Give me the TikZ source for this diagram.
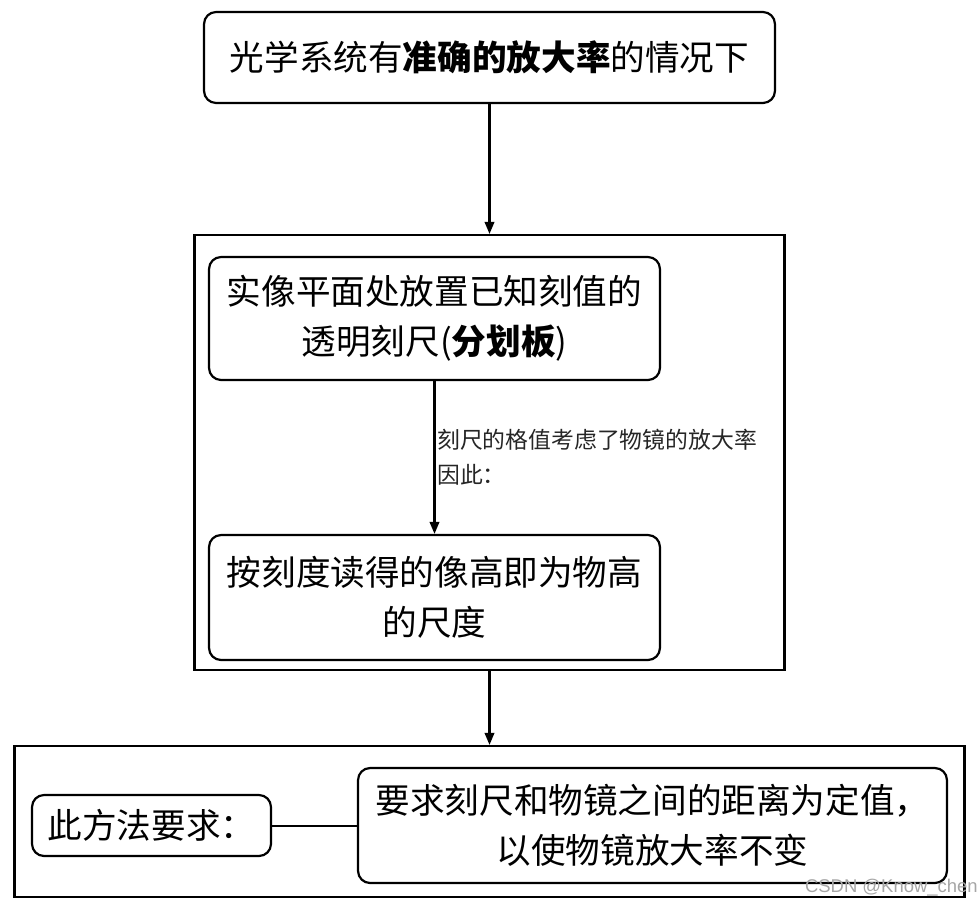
\documentclass[tikz,border=0pt]{standalone}
\usepackage{fontspec}
\setmainfont{Noto Sans CJK SC}
\newfontfamily\wmfont{Liberation Sans}
\usepackage{tikz}
\usetikzlibrary{arrows.meta,positioning}
\tikzset{
  rbox/.style={rectangle,rounded corners=2.4mm,draw=black,line width=1.25pt,align=center,inner sep=0pt,font=\fontsize{19.7}{28.4}\selectfont},
  frame/.style={rectangle,draw=black,line width=1.25pt,inner sep=0pt},
  flow/.style={-{Triangle[length=2.4mm,width=1.9mm]},line width=1.15pt,black},
  link/.style={line width=1.15pt,black},
  note/.style={align=left,inner sep=1pt,font=\fontsize{13}{20}\selectfont,black!85},
}
\begin{document}
\begin{tikzpicture}[x=0.02cm,y=-0.02cm]
  \useasboundingbox (0,0) rectangle (980,906);
  % top condition
  \node[rbox,minimum width=11.42cm,minimum height=1.82cm] (cond) at (489.5,57.5)
     {光学系统有\textbf{准确的放大率}的情况下};
  % middle group
  \node[frame,minimum width=11.8cm,minimum height=8.7cm] (grp) at (489.5,452.5) {};
  \node[rbox,minimum width=9.02cm,minimum height=2.46cm] (scale) at (434.5,318.5)
     {实像平面处放置已知刻值的\\透明刻尺(\textbf{分划板})};
  \node[rbox,minimum width=9.02cm,minimum height=2.5cm] (read) at (434.5,597.5)
     {按刻度读得的像高即为物高\\的尺度};
  % bottom requirement
  \node[frame,minimum width=19cm,minimum height=3.02cm] (req) at (489.5,821.5) {};
  \node[rbox,minimum width=4.78cm,minimum height=1.22cm] (meth) at (151.5,825.5) {此方法要求：};
  \node[rbox,minimum width=11.78cm,minimum height=2.3cm] (dist) at (652.5,825.5)
     {要求刻尺和物镜之间的距离为定值，\\以使物镜放大率不变};

  \draw[flow] (cond) -- (grp);
  \draw[flow] (scale) -- node[note,right] (why) {刻尺的格值考虑了物镜的放大率\\因此：} (read);
  \draw[flow] (grp) -- (req);
  \draw[link] (meth) -- (dist);

  \node[anchor=east,inner sep=0pt,text=black!35,font=\wmfont\fontsize{10.5}{12}\selectfont] (wm) at (978,888) {CSDN @Know\_chen};
\end{tikzpicture}
\end{document}
